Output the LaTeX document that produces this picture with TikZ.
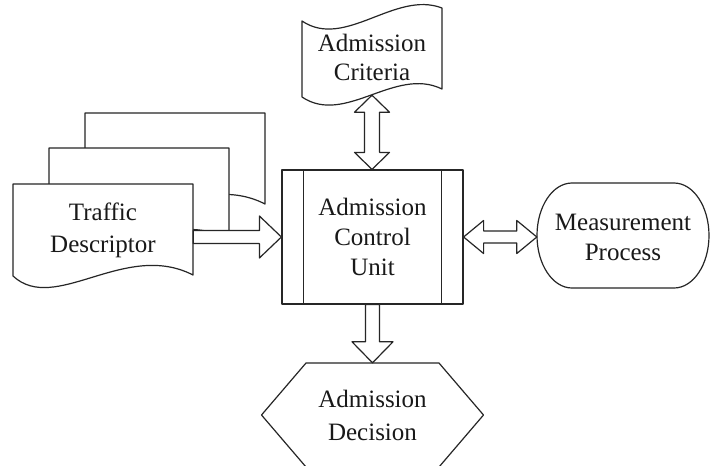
\documentclass[tikz,border=0pt]{standalone}
\usepackage{fontspec}
\setmainfont{Liberation Serif}
\usetikzlibrary{calc}
\begin{document}
\begin{tikzpicture}[x=1pt,y=1pt,
  outline/.style={draw=black!85, line width=1.2pt, fill=white, line join=round},
  holder/.style={inner sep=0pt, align=center, text=black!90},
  % fat block arrows drawn as closed outlines between two anchors
  % arguments: half shaft width, half head width, head length
  fatR/.style n args={3}{to path={let \p1=(\tikztostart), \p2=(\tikztotarget) in
    (\x1,\y1+#1) -- (\x2-#3,\y1+#1) -- (\x2-#3,\y1+#2) -- (\x2,\y1)
    -- (\x2-#3,\y1-#2) -- (\x2-#3,\y1-#1) -- (\x1,\y1-#1) -- cycle}},
  fatLR/.style n args={3}{to path={let \p1=(\tikztostart), \p2=(\tikztotarget) in
    (\x1,\y1) -- (\x1+#3,\y1+#2) -- (\x1+#3,\y1+#1) -- (\x2-#3,\y1+#1)
    -- (\x2-#3,\y1+#2) -- (\x2,\y1) -- (\x2-#3,\y1-#2) -- (\x2-#3,\y1-#1)
    -- (\x1+#3,\y1-#1) -- (\x1+#3,\y1-#2) -- cycle}},
  fatD/.style n args={3}{to path={let \p1=(\tikztostart), \p2=(\tikztotarget) in
    (\x1-#1,\y1) -- (\x1-#1,\y2+#3) -- (\x1-#2,\y2+#3) -- (\x1,\y2)
    -- (\x1+#2,\y2+#3) -- (\x1+#1,\y2+#3) -- (\x1+#1,\y1) -- cycle}},
  fatUD/.style n args={3}{to path={let \p1=(\tikztostart), \p2=(\tikztotarget) in
    (\x1,\y1) -- (\x1+#2,\y1-#3) -- (\x1+#1,\y1-#3) -- (\x1+#1,\y2+#3)
    -- (\x1+#2,\y2+#3) -- (\x1,\y2) -- (\x1-#2,\y2+#3) -- (\x1-#1,\y2+#3)
    -- (\x1-#1,\y1-#3) -- (\x1-#2,\y1-#3) -- cycle}},
]
\fill[white] (0,0) rectangle (710,-466);
\useasboundingbox (0,0) rectangle (710,-466);

% stacked documents, back to front
\draw[outline] (85,-113) -- (265,-113) -- (265,-204)
  .. controls (197,-169) and (127,-244) .. (85,-205) -- cycle;
\draw[outline] (49,-148) -- (229,-148) -- (229,-239)
  .. controls (161,-204) and (91,-279) .. (49,-240) -- cycle;
\draw[outline] (13,-184) -- (193,-184) -- (193,-275)
  .. controls (125,-240) and (55,-315) .. (13,-276) -- cycle;

% punched tape
\draw[outline] (302,-21) .. controls (345,-50) and (395,10) .. (442,-8)
  -- (442,-89) .. controls (395,-66) and (345,-126) .. (302,-97) -- cycle;

% terminal with elliptic ends
\draw[outline] (572,-183) -- (674,-183)
  arc[start angle=90, end angle=-90, x radius=35, y radius=52.5]
  -- (572,-288)
  arc[start angle=270, end angle=90, x radius=35, y radius=52.5] -- cycle;

% hexagon
\draw[outline] (306,-363) -- (439,-363) -- (483.5,-415) -- (439,-467)
  -- (306,-467) -- (261.5,-415) -- cycle;

% nodes
\node[holder, font=\fontsize{25}{32}\selectfont,
  minimum width=180, minimum height=92] (td) at (103,-230) {Traffic\\Descriptor};
\node[holder, font=\fontsize{25}{29}\selectfont,
  minimum width=140, minimum height=76] (crit) at (372,-57) {Admission\\Criteria};
\node[holder, font=\fontsize{25}{30}\selectfont, outline,
  minimum width=181, minimum height=134] (cu) at (372.5,-237) {Admission\\Control\\Unit};
\node[holder, font=\fontsize{25}{30}\selectfont,
  minimum width=172, minimum height=109] (mp) at (623,-237.5) {Measurement\\Process};
\node[holder, font=\fontsize{25}{33}\selectfont,
  minimum width=221, minimum height=104] (dec) at (372.5,-415) {Admission\\Decision};

% side bars of the predefined process
\draw[draw=black!85, line width=1.2pt] ([xshift=22pt]cu.north west) -- ([xshift=22pt]cu.south west);
\draw[draw=black!85, line width=1.2pt] ([xshift=-22pt]cu.north east) -- ([xshift=-22pt]cu.south east);

% block arrows
\draw[outline, fatR={6.5pt}{21pt}{22pt}] (td.east |- cu.west) to (cu.west);
\draw[outline, fatLR={6pt}{16.5pt}{20pt}] (cu.east) to (mp.west |- cu.east);
\draw[outline, fatUD={7.5pt}{17.5pt}{17pt}] (crit.south) to (crit.south |- cu.north);
\draw[outline, fatD={7pt}{20.5pt}{21pt}] (cu.south) to (dec.north);
\end{tikzpicture}
\end{document}
